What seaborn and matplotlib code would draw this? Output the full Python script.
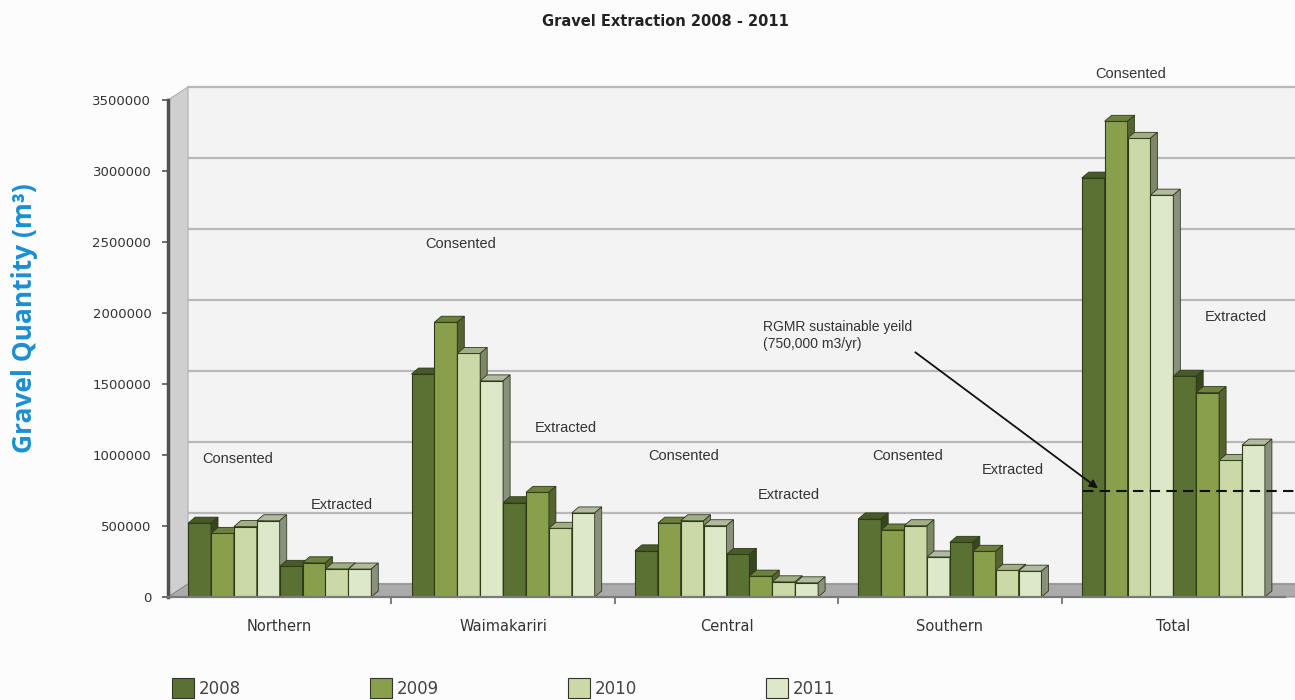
import numpy as np
import pandas as pd
import matplotlib
matplotlib.use("Agg")
import matplotlib.pyplot as plt
import seaborn as sns
from matplotlib.patches import Polygon, Patch

# ---------------- data ----------------
regions = ["Northern", "Waimakariri", "Central", "Southern", "Total"]
years = ["2008", "2009", "2010", "2011"]

consented_2008 = [520000, 1570000, 325000, 550000, 2950000]
consented_2009 = [448000, 1935000, 520000, 472000, 3350000]
consented_2010 = [496000, 1715000, 537000, 502000, 3230000]
consented_2011 = [537000, 1522000, 502000, 282000, 2830000]
extracted_2008 = [216000, 664000, 300000, 385000, 1555000]
extracted_2009 = [241000, 737000, 147000, 322000, 1440000]
extracted_2010 = [198000, 484000, 107000, 188000, 962000]
extracted_2011 = [197000, 592000, 100000, 182000, 1070000]

yticks = [0, 500000, 1000000, 1500000, 2000000, 2500000, 3000000, 3500000]
sustainable_yield = 750000

# label positions (value units) for group captions
consented_label_y = [973000, 2486000, 994000, 994000, 3680000]
extracted_label_y = [651000, 1190000, 721000, 896000, 1975000]

year_colors = ["#5b7133", "#88a04b", "#cbd9a7", "#dde8c9"]
edge_color = "#2e3a18"

series = {
    "Consented 2008": consented_2008,
    "Consented 2009": consented_2009,
    "Consented 2010": consented_2010,
    "Consented 2011": consented_2011,
    "Extracted 2008": extracted_2008,
    "Extracted 2009": extracted_2009,
    "Extracted 2010": extracted_2010,
    "Extracted 2011": extracted_2011,
}
rows = []
for name, vals in series.items():
    for r, v in zip(regions, vals):
        rows.append({"region": r, "series": name, "value": v})
df = pd.DataFrame(rows)
hue_order = list(series.keys())

# ---------------- figure ----------------
sns.set_theme(style="white")
plt.rcParams["font.family"] = ["DejaVu Sans"]

W, H = 1295, 700
fig = plt.figure(figsize=(W / 100, H / 100), dpi=100, facecolor="#fcfcfc")
ax_l, ax_r, ax_b, ax_t = 168 / W, 1285 / W, 1 - 597 / H, 1 - 100 / H
ax = fig.add_axes([ax_l, ax_b, ax_r - ax_l, ax_t - ax_b])
ax.set_facecolor("#fcfcfc")

sns.barplot(data=df, x="region", y="value", hue="series", order=regions,
            hue_order=hue_order, palette=year_colors * 2, width=0.82,
            saturation=1, edgecolor=edge_color, linewidth=0.8,
            legend=False, ax=ax)

ymax = 3500000
ax.set_xlim(-0.5, 4.5)
ax.set_ylim(0, ymax)

# pixel -> data conversions
ax_w_px = (ax_r - ax_l) * W
ax_h_px = (ax_t - ax_b) * H
px_x = 5 / ax_w_px
px_y = ymax / ax_h_px

# back wall / floor / left wall (pseudo 3D)
wall_dx = 20 * px_x
wall_dy = 13 * px_y
back = Polygon([(-0.5 + wall_dx, wall_dy), (4.6, wall_dy), (4.6, ymax + wall_dy),
                (-0.5 + wall_dx, ymax + wall_dy)], closed=True,
               facecolor="#f3f3f3", edgecolor="none", zorder=0.5, clip_on=False)
ax.add_patch(back)
for t in yticks:
    ax.plot([-0.5 + wall_dx, 4.6], [t + wall_dy, t + wall_dy], color="#b8b8b8",
            lw=1.6, zorder=0.8, clip_on=False)
left_wall = Polygon([(-0.5, 0), (-0.5 + wall_dx, wall_dy), (-0.5 + wall_dx, ymax + wall_dy),
                     (-0.5, ymax)], closed=True, facecolor="#cfcfcf",
                    edgecolor="#b0b0b0", lw=0.8, zorder=0.9, clip_on=False)
ax.add_patch(left_wall)
floor = Polygon([(-0.5, 0), (4.55, 0), (4.55 + wall_dx * 0.5, wall_dy),
                 (-0.5 + wall_dx, wall_dy)], closed=True, facecolor="#ababab",
                edgecolor="#8a8a8a", lw=0.8, zorder=1.0, clip_on=False)
ax.add_patch(floor)


def shade(c, f):
    rgb = np.array(matplotlib.colors.to_rgb(c))
    return tuple(np.clip(rgb * f, 0, 1))


# 3D faces on bars
dx = 7 * px_x
dy = 6 * px_y
for k, cont in enumerate(ax.containers):
    base_col = year_colors[k % 4]
    for bar in cont:
        bar.set_zorder(3 + k)
        x0 = bar.get_x()
        x1 = x0 + bar.get_width()
        h = bar.get_height()
        top = Polygon([(x0, h), (x0 + dx, h + dy), (x1 + dx, h + dy), (x1, h)],
                      closed=True, facecolor=shade(base_col, 0.8),
                      edgecolor=edge_color, lw=0.6, zorder=3 + k + 0.5)
        side = Polygon([(x1, 0), (x1, h), (x1 + dx, h + dy), (x1 + dx, dy)],
                       closed=True, facecolor=shade(base_col, 0.62),
                       edgecolor=edge_color, lw=0.6, zorder=3 + k + 0.5)
        ax.add_patch(top)
        ax.add_patch(side)

# axes styling
for s in ["top", "right"]:
    ax.spines[s].set_visible(False)
ax.spines["left"].set_color("#505050")
ax.spines["left"].set_linewidth(2.5)
ax.spines["left"].set_zorder(20)
ax.spines["bottom"].set_color("#7a7a7a")
ax.spines["bottom"].set_linewidth(1.6)
ax.spines["bottom"].set_zorder(20)

ax.set_yticks(yticks)
ax.set_yticklabels([str(t) for t in yticks], fontsize=9.5, color="#333333")
ax.tick_params(axis="y", length=4, width=1.2, color="#555555", pad=8, left=True)
ax.tick_params(axis="x", length=0, pad=16, labelsize=10.5, labelcolor="#333333")
ax.set_xticks(range(len(regions)))
ax.set_xticklabels(regions)
ax.set_xticks([0.5, 1.5, 2.5, 3.5], minor=True)
ax.tick_params(axis="x", which="minor", length=5, width=1.2, color="#666666", bottom=True)
ax.set_xlabel("")
ax.set_ylabel("")
ax.grid(False)

# group captions
lab_font = dict(fontsize=10.5, color="#333333", family=["Liberation Sans"], zorder=30,
                ha="center", va="center", clip_on=False)
for i in range(len(regions)):
    ax.text(i - 0.19, consented_label_y[i], "Consented", **lab_font)
    ax.text(i + 0.28, extracted_label_y[i], "Extracted", **lab_font)

# sustainable yield line and annotation
ax.plot([3.596, 4.56], [sustainable_yield, sustainable_yield], color="#111111",
        lw=1.5, ls=(0, (5, 3)), zorder=40, clip_on=False)
ax.annotate("RGMR sustainable yeild\n(750,000 m3/yr)",
            xy=(3.663, sustainable_yield + 15000), xytext=(2.163, 1950000),
            ha="left", va="top", fontsize=10, color="#333333",
            family=["Liberation Sans"], linespacing=1.3, zorder=40,
            arrowprops=dict(arrowstyle="-|>", color="#111111", lw=1.3,
                            shrinkA=0, shrinkB=0, mutation_scale=12,
                            relpos=(1.0, 0.05)))

# title & y label
fig.text(665 / W, 1 - 22 / H, "Gravel Extraction 2008 - 2011", ha="center", va="center",
         fontsize=10.5, fontweight="bold", color="#222222")
fig.text(25 / W, 1 - 318 / H, "Gravel Quantity (m³)", rotation=90, ha="center",
         va="center", fontsize=19, fontweight="bold", color="#1b8fd4",
         family=["Open Sans", "DejaVu Sans"])

# legend
handles = [Patch(facecolor=c, edgecolor="#333333", lw=0.8) for c in year_colors]
fig.legend(handles, years, loc="lower left", bbox_to_anchor=(157 / W, -0.018), ncol=4,
           frameon=False, fontsize=12, handlelength=1.3, handleheight=1.4,
           handletextpad=0.3, columnspacing=7.75, labelcolor="#444444")

fig.savefig("out.png", dpi=100, facecolor=fig.get_facecolor())
